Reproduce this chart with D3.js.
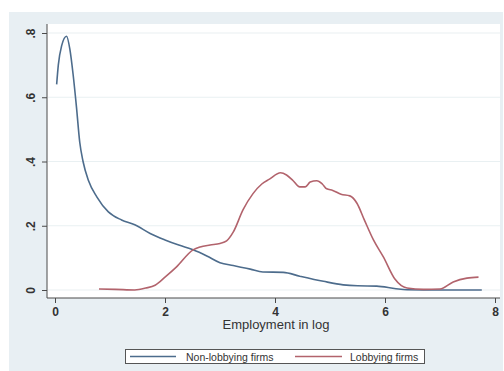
<!DOCTYPE html>
<html>
<head>
<meta charset="utf-8">
<script src="https://cdn.jsdelivr.net/npm/d3@7"></script>
<style>
  html, body { margin: 0; padding: 0; background: #fff; }
  svg { display: block; font-family: "Liberation Sans", Arial, sans-serif; }
</style>
</head>
<body>
<svg id="chart" width="504" height="371"></svg>
<script>
// Kernel density of log employment, by lobbying status
const nonLobbyX = [0.03,0.06,0.12,0.21,0.27,0.33,0.39,0.45,0.51,0.61,0.76,0.97,1.21,1.45,1.73,2.0,2.25,2.51,2.76,3.0,3.24,3.55,3.78,4.15,4.45,4.88,5.24,5.5,5.85,6.2,6.4,7.0,7.76];
const nonLobbyY = [0.64,0.70,0.76,0.79,0.75,0.67,0.57,0.46,0.40,0.34,0.29,0.243,0.218,0.203,0.176,0.156,0.14,0.125,0.106,0.085,0.076,0.065,0.056,0.055,0.043,0.027,0.016,0.013,0.012,0.004,0.001,0.0,0.0];

const lobbyX = [0.8,1.1,1.45,1.65,1.82,2.0,2.21,2.51,2.64,2.82,3.0,3.12,3.24,3.42,3.6,3.76,3.9,4.1,4.21,4.33,4.45,4.55,4.64,4.76,4.86,4.94,5.05,5.2,5.36,5.49,5.62,5.79,5.97,6.18,6.4,6.7,7.0,7.24,7.49,7.7];
const lobbyY = [0.003,0.002,0.0,0.006,0.015,0.04,0.072,0.125,0.134,0.14,0.145,0.153,0.18,0.25,0.30,0.33,0.345,0.365,0.358,0.34,0.321,0.321,0.336,0.34,0.33,0.315,0.31,0.298,0.293,0.27,0.22,0.156,0.103,0.034,0.006,0.002,0.003,0.025,0.037,0.04];

const xTicks = [0, 2, 4, 6, 8];
const yTicks = [0, 0.2, 0.4, 0.6, 0.8];
const yTickLabels = ["0", ".2", ".4", ".6", ".8"];
const seriesNames = ["Non-lobbying firms", "Lobbying firms"];
const seriesColors = ["#4d6c8c", "#b2636c"];
const xTitle = "Employment in log";

const svg = d3.select("#chart");

// outer graph region
svg.append("rect").attr("x", 9).attr("y", 12).attr("width", 494).attr("height", 359)
  .attr("fill", "#e8eff3");

// plot region
const plot = { left: 47, right: 500, top: 24, bottom: 298 };
svg.append("rect").attr("x", plot.left).attr("y", plot.top)
  .attr("width", plot.right - plot.left).attr("height", plot.bottom - plot.top)
  .attr("fill", "#ffffff");

const x = d3.scaleLinear().domain([0, 8]).range([55, 495]);
const y = d3.scaleLinear().domain([0, 0.8]).range([290, 33]);

// horizontal grid
svg.append("g").selectAll("line").data(yTicks).join("line")
  .attr("x1", plot.left + 1).attr("x2", plot.right)
  .attr("y1", d => y(d)).attr("y2", d => y(d))
  .attr("stroke", "#e9f0f2").attr("stroke-width", 1.2);

// y axis
const yAxis = d3.axisLeft(y).tickValues(yTicks).tickSize(5)
  .tickFormat((d, i) => yTickLabels[i]);
const gy = svg.append("g").attr("transform", `translate(${plot.left},0)`).call(yAxis);
gy.select(".domain").attr("d", `M0,${plot.top}V${plot.bottom}`).attr("stroke", "#4a4a4a");
gy.selectAll(".tick line").attr("stroke", "#4a4a4a");
gy.selectAll(".tick text")
  .attr("x", 0).attr("dy", 0)
  .attr("transform", "translate(-12,0) rotate(-90)")
  .attr("text-anchor", "middle")
  .attr("font-size", 12).attr("font-weight", "bold").attr("fill", "#333")
  .attr("font-family", "Liberation Sans, Arial, sans-serif");

// x axis
const xAxis = d3.axisBottom(x).tickValues(xTicks).tickSize(5).tickFormat(d3.format("d"));
const gx = svg.append("g").attr("transform", `translate(0,${plot.bottom})`).call(xAxis);
gx.select(".domain").attr("d", `M${plot.left},0H${plot.right}`).attr("stroke", "#4a4a4a");
gx.selectAll(".tick line").attr("stroke", "#4a4a4a");
gx.selectAll(".tick text")
  .attr("y", 9).attr("dy", "0.71em")
  .attr("font-size", 12).attr("font-weight", "bold").attr("fill", "#333")
  .attr("font-family", "Liberation Sans, Arial, sans-serif");

svg.append("text").attr("x", 276).attr("y", 329).attr("text-anchor", "middle")
  .attr("font-size", 13).attr("fill", "#333").text(xTitle);

// density curves
const line = d3.line().x(d => x(d[0])).y(d => y(d[1])).curve(d3.curveMonotoneX);
const series = [
  d3.zip(nonLobbyX, nonLobbyY),
  d3.zip(lobbyX, lobbyY)
];
svg.append("g").selectAll("path").data(series).join("path")
  .attr("d", line).attr("fill", "none")
  .attr("stroke", (d, i) => seriesColors[i]).attr("stroke-width", 1.6)
  .attr("stroke-linejoin", "round");

// legend
svg.append("rect").attr("x", 125.5).attr("y", 349.5).attr("width", 299).attr("height", 14)
  .attr("fill", "#ffffff").attr("stroke", "#555").attr("stroke-width", 1);
const legendItems = [
  { x1: 130, x2: 176, tx: 186 },
  { x1: 295, x2: 342, tx: 350 }
];
const lg = svg.append("g").selectAll("g").data(legendItems).join("g");
lg.append("line").attr("x1", d => d.x1).attr("x2", d => d.x2)
  .attr("y1", 356.5).attr("y2", 356.5)
  .attr("stroke", (d, i) => seriesColors[i]).attr("stroke-width", 1.6);
lg.append("text").attr("x", d => d.tx).attr("y", 360.5)
  .attr("font-size", 10.5).attr("fill", "#333")
  .text((d, i) => seriesNames[i]);
</script>
</body>
</html>
